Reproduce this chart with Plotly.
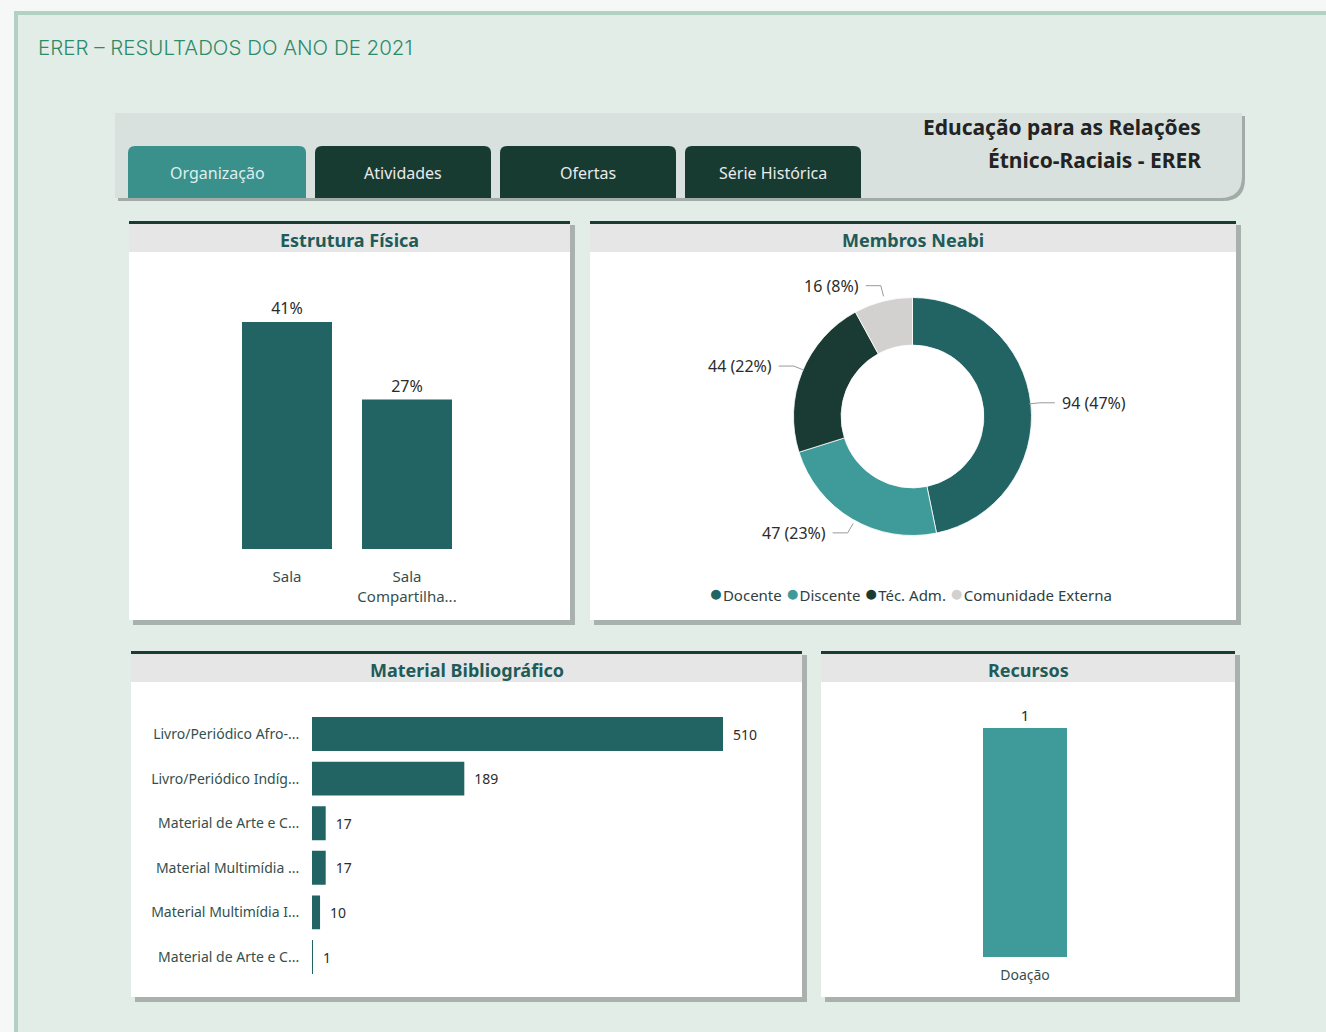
import math
import plotly.graph_objects as go

# ---------------- data ----------------
page_title = "ERER – RESULTADOS DO ANO DE 2021"
report_title = ["Educação para as Relações", "Étnico-Raciais - ERER"]
tabs = ["Organização", "Atividades", "Ofertas", "Série Histórica"]

estrutura_cats = ["Sala", "Sala<br>Compartilha..."]
estrutura_vals = [41, 27]

neabi_labels = ["Docente", "Discente", "Téc. Adm.", "Comunidade Externa"]
neabi_vals = [94, 47, 44, 16]

material_labels = ["Livro/Periódico Afro-...", "Livro/Periódico Indíg...",
                   "Material de Arte e C...", "Material Multimídia ...",
                   "Material Multimídia I...", "Material de Arte e C..."]
material_vals = [510, 189, 17, 17, 10, 1]

recursos_cats = ["Doação"]
recursos_vals = [1]

panel_titles = ["Estrutura Física", "Membros Neabi", "Material Bibliográfico", "Recursos"]

# ---------------- styling ----------------
W, H = 1326, 1032
FONT = "Noto Sans"
DARK_TEAL = "#216463"
MID_TEAL = "#3f9b9a"
DARK_GREEN = "#1a3b34"
LIGHT_GRAY = "#d3d0d0"
TICK_COLOR = "#34504e"
VALUE_COLOR = "#2b2b2b"
TITLE_COLOR = "#1e5b59"
pie_colors = [DARK_TEAL, MID_TEAL, DARK_GREEN, LIGHT_GRAY]


def fx(x):
    return x / W


def fy(y):
    return 1 - y / H


shapes = []
annotations = []


def rect(x0, y0, x1, y1, color):
    shapes.append(dict(type="rect", xref="paper", yref="paper",
                       x0=fx(x0), x1=fx(x1), y0=fy(y1), y1=fy(y0),
                       fillcolor=color, line=dict(width=0), layer="below"))


def path(d, color):
    shapes.append(dict(type="path", xref="paper", yref="paper", path=d,
                       fillcolor=color, line=dict(width=0), layer="below"))


def P(x, y):
    return f"{fx(x):.6f},{fy(y):.6f}"


def tab_path(x0, y0, x1, y1, r):
    return (f"M {P(x0, y1)} L {P(x0, y0 + r)} Q {P(x0, y0)} {P(x0 + r, y0)} "
            f"L {P(x1 - r, y0)} Q {P(x1, y0)} {P(x1, y0 + r)} L {P(x1, y1)} Z")


def ann(text, x, y, size, color, bold=False, xanchor="center", yanchor="middle",
        family=FONT, align="center", weight=None):
    annotations.append(dict(text=text, x=fx(x), y=fy(y), xref="paper", yref="paper",
                            xanchor=xanchor, yanchor=yanchor, showarrow=False,
                            align=align,
                            font=dict(family=family, size=size, color=color,
                                      weight=weight if weight else ("bold" if bold else "normal"))))


# page background / frame
rect(0, 0, W, 11, "#f6f7f7")
rect(0, 0, 14, H, "#f6f7f7")
rect(14, 11, W, 15, "#b3d1c3")
rect(14, 11, 18, H, "#b3d1c3")

ann(page_title, 36, 48, 20.5, "#2f8a68", family="Inter", xanchor="left", weight=300)

# header band with rounded bottom-right corner
def band_path(x0, y0, x1, y1, r):
    return (f"M {P(x0, y0)} L {P(x1, y0)} L {P(x1, y1 - r)} Q {P(x1, y1)} {P(x1 - r, y1)} "
            f"L {P(x0, y1)} Z")

path(band_path(118, 116, 1245, 201, 22), "#a3aba8")
path(band_path(115, 113, 1242, 198, 22), "#d8e1de")

tab_x = [(128, 306), (315, 491), (500, 676), (685, 861)]
tab_colors = ["#3a918c", "#173a31", "#173a31", "#173a31"]
tab_text_colors = ["#dcefee", "#eaeaea", "#eaeaea", "#eaeaea"]
for (x0, x1), c, tc, t in zip(tab_x, tab_colors, tab_text_colors, tabs):
    path(tab_path(x0, 146, x1, 198, 7), c)
    ann(t, (x0 + x1) / 2, 173, 16, tc)

ann(report_title[0], 1203, 127, 21, "#232323", bold=True, xanchor="right")
ann(report_title[1], 1203, 160, 21, "#232323", bold=True, xanchor="right")

# panels
panels = [
    (129, 221, 570, 620),
    (590, 221, 1236, 620),
    (131, 651, 802, 997),
    (821, 651, 1235, 997),
]
for (x0, y0, x1, y1), t in zip(panels, panel_titles):
    rect(x0 + 4, y0 + 4, x1 + 5, y1 + 5, "#a9b1ae")
    rect(x0, y0 + 3, x1, y1, "#ffffff")
    rect(x0, y0 + 3, x1, y0 + 31, "#e6e6e6")
    rect(x0, y0, x1, y0 + 3, "#1b3c35")
    ann(t, (x0 + x1) / 2, y0 + 19, 18, TITLE_COLOR, bold=True)

fig = go.Figure()

# ---- Estrutura Física (vertical bars) ----
px_per_pct = (549 - 322) / estrutura_vals[0]
fig.add_trace(go.Bar(
    x=estrutura_cats, y=estrutura_vals, width=0.75,
    marker=dict(color=DARK_TEAL, line=dict(width=0)),
    texttemplate="%{y}%", textposition="outside", cliponaxis=False,
    textfont=dict(family=FONT, size=16, color=VALUE_COLOR),
    xaxis="x", yaxis="y", showlegend=False, hoverinfo="skip"))

# ---- Membros Neabi (donut) ----
cx, cy, R = 912.5, 416.5, 119
fig.add_trace(go.Pie(
    labels=neabi_labels, values=neabi_vals, hole=0.6, sort=False,
    direction="clockwise", rotation=0,
    marker=dict(colors=pie_colors, line=dict(color="#ffffff", width=0.8)),
    textinfo="none", showlegend=False, hoverinfo="skip",
    domain=dict(x=[fx(cx - R), fx(cx + R)], y=[fy(cy + R), fy(cy - R)])))

total = sum(neabi_vals)
cum = 0
RX, RY = 116, 123
for v in neabi_vals:
    mid = (cum + v / 2) / total * 2 * math.pi
    cum += v
    sx, sy = math.sin(mid), -math.cos(mid)
    p0 = (cx + (RX + 1) * sx, cy + (RY + 1) * sy)
    p1 = (cx + (RX + 12) * sx, cy + (RY + 12) * sy)
    side = 1 if sx > 0 else -1
    p2 = (p1[0] + side * 15, p1[1])
    shapes.append(dict(type="path", xref="paper", yref="paper",
                       path=f"M {P(*p0)} L {P(*p1)} L {P(*p2)}",
                       line=dict(color="#9a9a9a", width=1)))
    pct = round(v / total * 100)
    ann(f"{v} ({pct}%)", p2[0] + side * 5, p2[1], 16, VALUE_COLOR,
        xanchor="left" if side > 0 else "right")

legend_parts = []
for lab, col in zip(neabi_labels, pie_colors):
    legend_parts.append(f'<span style="color:{col};font-size:23px">●</span>{lab}')
ann(" ".join(legend_parts), 910, 592, 15, "#2f403e")

# ---- Material Bibliográfico (horizontal bars) ----
row_idx = list(range(len(material_labels)))
fig.add_trace(go.Bar(
    y=row_idx, x=material_vals, orientation="h", width=0.76,
    marker=dict(color=DARK_TEAL, line=dict(width=0)),
    text=material_vals, texttemplate="\u2002%{x}", textposition="outside", cliponaxis=False,
    textfont=dict(family=FONT, size=14, color=VALUE_COLOR),
    xaxis="x3", yaxis="y3", showlegend=False, hoverinfo="skip"))

px_per_unit = (723 - 312) / material_vals[0]
row_step = (957 - 734) / 5

# ---- Recursos ----
fig.add_trace(go.Bar(
    x=recursos_cats, y=recursos_vals, width=84 / 250,
    marker=dict(color=MID_TEAL, line=dict(width=0)),
    text=recursos_vals, textposition="outside", cliponaxis=False,
    textfont=dict(family=FONT, size=15, color=VALUE_COLOR),
    xaxis="x4", yaxis="y4", showlegend=False, hoverinfo="skip"))

hidden = dict(showgrid=False, zeroline=False, showline=False, showticklabels=False,
              ticks="", fixedrange=True)
tickfont = dict(family=FONT, size=15, color=TICK_COLOR)

fig.update_layout(
    width=W, height=H, margin=dict(l=0, r=0, t=0, b=0),
    paper_bgcolor="#e3ede8", plot_bgcolor="rgba(0,0,0,0)",
    shapes=shapes, annotations=annotations,
    font=dict(family=FONT),
    xaxis=dict(domain=[fx(227), fx(467)], range=[-0.5, 1.5], showgrid=False,
               zeroline=False, showline=False, ticks="outside", ticklen=14,
               tickcolor="rgba(0,0,0,0)", tickfont=tickfont, fixedrange=True),
    yaxis=dict(domain=[fy(549), fy(290)], range=[0, (549 - 290) / px_per_pct], **hidden),
    xaxis3=dict(domain=[fx(312), fx(795)], range=[0, (795 - 312) / px_per_unit],
                anchor="y3", **hidden),
    yaxis3=dict(domain=[fy(734 + row_step * 5.5), fy(734 - row_step * 0.5)],
                range=[len(material_labels) - 0.5, -0.5], anchor="x3",
                tickvals=row_idx, ticktext=material_labels,
                showgrid=False, zeroline=False, showline=False, ticks="outside",
                ticklen=9, tickcolor="rgba(0,0,0,0)",
                tickfont=dict(family=FONT, size=14, color=TICK_COLOR), fixedrange=True),
    xaxis4=dict(domain=[fx(900), fx(1150)], range=[-0.5, 0.5], anchor="y4",
                showgrid=False, zeroline=False, showline=False, ticks="outside",
                ticklen=5, tickcolor="rgba(0,0,0,0)",
                tickfont=dict(family=FONT, size=14, color=TICK_COLOR), fixedrange=True),
    yaxis4=dict(domain=[fy(957), fy(700)], range=[0, (957 - 700) / (957 - 728)],
                anchor="x4", **hidden),
)

fig.write_html("out.html", config={"displayModeBar": False},
               post_script="document.body.style.margin='0';")
